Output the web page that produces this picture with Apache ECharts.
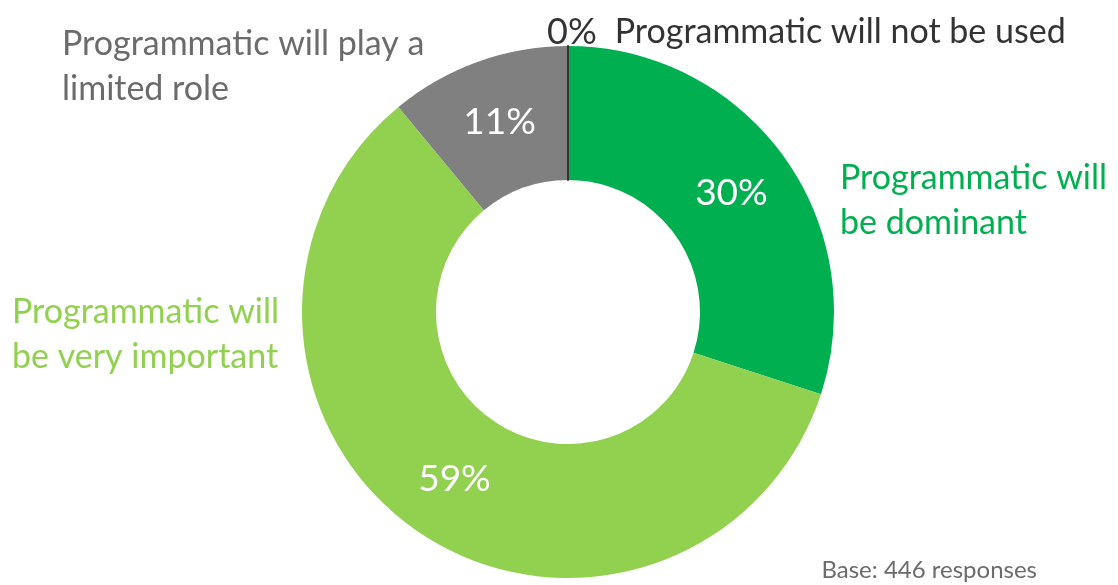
<!DOCTYPE html>
<html>
<head>
<meta charset="utf-8">
<style>
  html, body { margin: 0; padding: 0; background: #ffffff; }
  #chart { width: 1118px; height: 585px; }
</style>
<script src="https://cdn.jsdelivr.net/npm/echarts@6/dist/echarts.min.js"></script>
</head>
<body>
<div id="chart"></div>
<script>
// Survey answers, clockwise from the top
const categories = [
  'Programmatic will\nbe dominant',
  'Programmatic will\nbe very important',
  'Programmatic will play a\nlimited role',
  'Programmatic will not be used'
];
const shares = [30, 59, 11, 0];
const sliceColors = ['#00B050', '#92D050', '#808080', '#333333'];
const nameColors = ['#00B050', '#92D050', '#6b6b6b', '#333333'];
const baseNote = 'Base: 446 responses';

const FONT = 'Lato, "Open Sans", sans-serif';

// where each category caption sits (left anchor, first-line top)
const captionSpots = [
  { x: 840, y: 156 },
  { x: 12, y: 290 },
  { x: 62, y: 22 },
  { x: 547, y: 10 }
];

const chart = echarts.init(document.getElementById('chart'), null, { renderer: 'canvas' });

const ringData = categories.map((c, i) => ({
  name: c,
  value: shares[i],
  itemStyle: i === 3
    ? { color: sliceColors[i], borderColor: sliceColors[i], borderWidth: 2 }
    : { color: sliceColors[i], borderWidth: 0 }
}));

// caption text; the slice too thin to hold its percentage carries it in front
function captionText(p) {
  if (p.value === 0) {
    return '{p|' + p.value + '%}{n|' + p.name + '}';
  }
  return p.name;
}

chart.setOption({
  animation: false,
  graphic: [{
    type: 'text',
    right: 81,
    bottom: 3,
    style: { text: baseNote, fill: '#6b6b6b', font: '24px ' + FONT }
  }],
  series: [
    {
      // the donut with its percentage labels
      type: 'pie',
      center: [568, 312],
      radius: [132, 266],
      startAngle: 90,
      clockwise: true,
      avoidLabelOverlap: false,
      silent: true,
      data: ringData,
      label: {
        show: true,
        position: 'inside',
        color: '#ffffff',
        fontFamily: FONT,
        fontSize: 37,
        formatter: p => (p.value === 0 ? '' : p.value + '%')
      },
      labelLine: { show: false }
    },
    {
      // category captions laid out around the ring
      type: 'pie',
      center: [568, 312],
      radius: [132, 266],
      startAngle: 90,
      silent: true,
      avoidLabelOverlap: false,
      itemStyle: { color: 'rgba(0,0,0,0)' },
      data: categories.map((c, i) => ({
        name: c,
        value: shares[i],
        label: { color: nameColors[i] }
      })),
      label: {
        show: true,
        position: 'inside',
        formatter: captionText,
        fontFamily: FONT,
        fontSize: 34,
        lineHeight: 45,
        rich: {
          p: { fontFamily: FONT, fontSize: 36, lineHeight: 45, color: '#333333', padding: [0, 18, 0, 0] },
          n: { fontFamily: FONT, fontSize: 34, lineHeight: 45, color: '#333333' }
        }
      },
      labelLine: { show: false },
      labelLayout: function (p) {
        const s = captionSpots[p.dataIndex];
        return { x: s.x, y: s.y, align: 'left', verticalAlign: 'top' };
      }
    }
  ]
});
</script>
</body>
</html>
